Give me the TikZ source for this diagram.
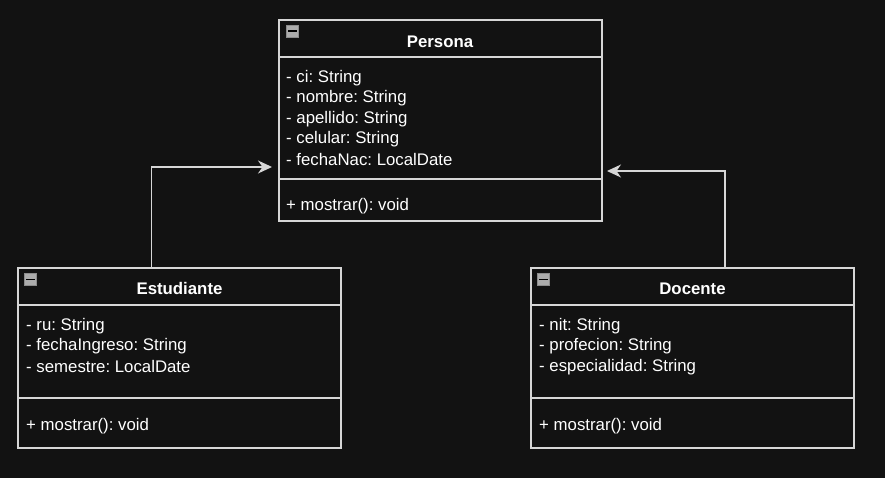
\documentclass[tikz,border=0pt]{standalone}
\usepackage{fontspec}
\setmainfont{Liberation Sans}
\frenchspacing
\usetikzlibrary{arrows.meta}
\definecolor{bgc}{HTML}{121212}
\definecolor{linec}{HTML}{D6D6D6}
\tikzset{
  classbox/.style={draw=linec, line width=1.3pt, fill=bgc, anchor=north west, inner sep=0pt, outer sep=0pt},
  divider/.style={draw=linec, line width=1.3pt},
  title/.style={text=white, font=\fontsize{16.8}{19}\selectfont\bfseries, inner sep=0pt, yshift=-1.5pt},
  member/.style={text=white, font=\fontsize{16.8}{19}\selectfont, anchor=west, inner sep=0pt, yshift=-1.8pt},
  conn/.style={draw=linec, line width=1.3pt, -{Stealth[length=14pt,width=13pt,inset=4.5pt]}},
  iconsq/.style={fill=gray!65, draw=gray!90, line width=0.6pt}
}
\begin{document}
\begin{tikzpicture}[x=1pt,y=-1pt]
\fill[bgc] (0,0) rectangle (885,478);
\useasboundingbox (0,0) rectangle (885,478);

% Persona
\node[classbox, minimum width=323pt, minimum height=201pt] (persona) at (279,20) {};
\draw[divider] (279,57) -- (602,57);
\draw[divider] (279,179) -- (602,179);
\draw[iconsq] (286,25.5) rectangle (298.5,37);
\draw[black, line width=1.6pt] (288,31.3) -- (296.5,31.3);
\node[title] (ptitle) at (440,40) {Persona};
\node[member] (p1) at (286,76) {- ci: String};
\node[member] (p2) at (286,96.5) {- nombre: String};
\node[member] (p3) at (286,117) {- apellido: String};
\node[member] (p4) at (286,137.5) {- celular: String};
\node[member] (p5) at (286,158) {- fechaNac: LocalDate};
\node[member] (pm) at (286,204) {+ mostrar(): void};

% Estudiante
\node[classbox, minimum width=323pt, minimum height=180pt] (est) at (18,268) {};
\draw[divider] (18,305) -- (341,305);
\draw[divider] (18,398) -- (341,398);
\draw[iconsq] (24,273.5) rectangle (36.5,285);
\draw[black, line width=1.6pt] (26,279.3) -- (34.5,279.3);
\node[title] (etitle) at (179.5,287) {Estudiante};
\node[member] (e1) at (26,324) {- ru: String};
\node[member] (e2) at (26,344.5) {- fechaIngreso: String};
\node[member] (e3) at (26,365) {- semestre: LocalDate};
\node[member] (em) at (26,424) {+ mostrar(): void};

% Docente
\node[classbox, minimum width=323pt, minimum height=180pt] (doc) at (531,268) {};
\draw[divider] (531,305) -- (854,305);
\draw[divider] (531,398) -- (854,398);
\draw[iconsq] (537,273.5) rectangle (549.5,285);
\draw[black, line width=1.6pt] (539,279.3) -- (547.5,279.3);
\node[title] (dtitle) at (692.5,287) {Docente};
\node[member] (d1) at (539,324) {- nit: String};
\node[member] (d2) at (539,344.5) {- profecion: String};
\node[member] (d3) at (539,365) {- especialidad: String};
\node[member] (dm) at (539,424) {+ mostrar(): void};

% connectors
\coordinate (eout) at (151.5,268);
\coordinate (ein) at (272,167);
\coordinate (dout) at (725,268);
\coordinate (din) at (607,171);
\draw[conn] (eout) |- (ein);
\draw[conn] (dout) |- (din);
\end{tikzpicture}
\end{document}
